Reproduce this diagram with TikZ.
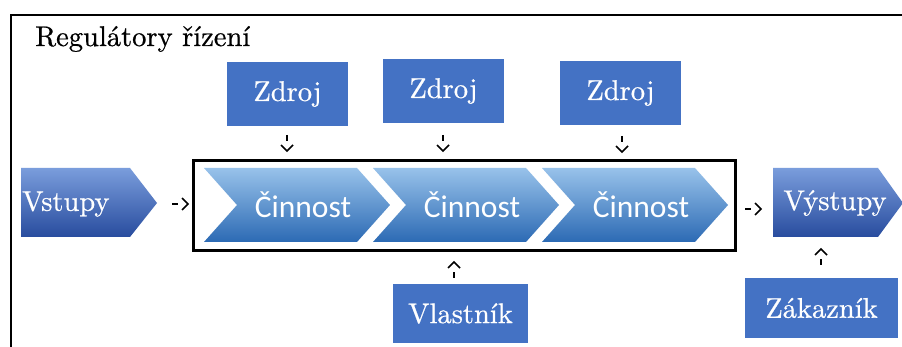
\documentclass[tikz,border=0pt]{standalone}
\usepackage{fontspec}
\newfontfamily\timesf{lmroman10-regular.otf}[FakeBold=0.6]
\newfontfamily\calibri{Carlito}
\definecolor{boxblue}{RGB}{68,114,196}
\definecolor{chevtop}{RGB}{152,194,234}
\definecolor{chevbot}{RGB}{44,106,180}
\definecolor{iotop}{RGB}{122,157,220}
\definecolor{iobot}{RGB}{40,76,158}
\begin{document}
\begin{tikzpicture}[x=1pt,y=-1pt,
  txt/.style={font=\timesf\fontsize{28.5}{34}\selectfont, inner sep=0pt},
  bluebox/.style={txt, fill=boxblue, text=white},
  chevtext/.style={font=\calibri\fontsize{31.5}{38}\selectfont, text=white, inner sep=0pt},
  iotext/.style={txt, text=white},
  chevshade/.style={top color=chevtop, bottom color=chevbot},
  ioshade/.style={top color=iotop, bottom color=iobot},
  sarr/.pic={
    \draw[line width=2.4pt] (-8,0) -- (-2,0);
    \draw[line width=1.6pt, line join=miter] (2,-6) -- (8,0) -- (2,6);
  }]
\useasboundingbox (0,0) rectangle (902,347);
\fill[white] (0,0) rectangle (902,347);

% outer frame
\draw[line width=1.3pt] (11,347) -- (11,15) -- (902,15);
\node[txt, anchor=base west] (title) at (35,46) {Regulátory řízení};

% Zdroj boxes
\node[bluebox, minimum width=121pt, minimum height=64pt] (z1) at (287.5,94) {Zdroj};
\node[bluebox, minimum width=121pt, minimum height=64pt] (z2) at (443.5,91) {Zdroj};
\node[bluebox, minimum width=121pt, minimum height=64pt] (z3) at (620.5,93) {Zdroj};

% bottom boxes
\node[bluebox, minimum width=135pt, minimum height=59pt] (vl) at (460.5,313.5) {Vlastník};
\node[bluebox, minimum width=153pt, minimum height=60pt] (za) at (821.5,308) {Zákazník};

% process frame
\draw[line width=3pt] (193,161) rectangle (735,251);
\coordinate (frame) at (464,206);

% chevrons
\foreach \L/\n in {204/c1,373/c2,542/c3}{
  \shade[chevshade] (\L,168) -- ({\L+153},168) -- ({\L+186},205) -- ({\L+153},242) -- (\L,242) -- ({\L+33},205) -- cycle;
  \node[chevtext] (\n) at ({\L+99},205) {Činnost};
}

% inputs / outputs
\shade[ioshade] (21,168) -- (130,168) -- (157,203) -- (130,237) -- (21,237) -- cycle;
\node[iotext, anchor=west] (vs) at (22,204) {Vstupy};
\shade[ioshade] (773,168) -- (878,168) -- (903,203) -- (878,237) -- (773,237) -- cycle;
\node[iotext] (vy) at (835,203) {Výstupy};

% small arrows
\pic at (180,204) {sarr};
\pic at (753,209) {sarr};
\pic[rotate=-90] at (287,143) {sarr};
\pic[rotate=-90] at (443,143) {sarr};
\pic[rotate=-90] at (622,144) {sarr};
\pic[rotate=90] at (454,270) {sarr};
\pic[rotate=90] at (821,257) {sarr};
\end{tikzpicture}
\end{document}
